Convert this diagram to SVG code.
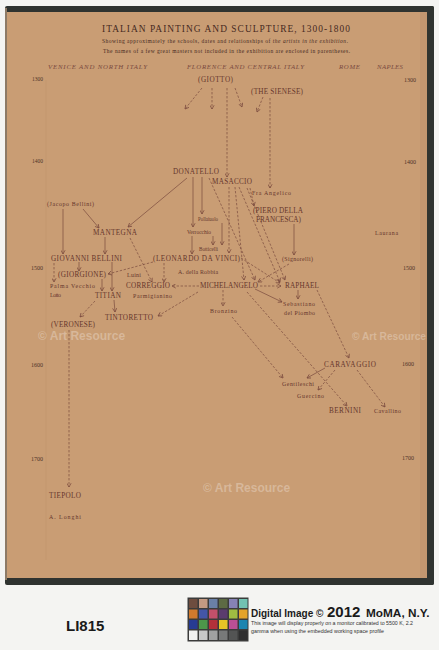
<svg xmlns="http://www.w3.org/2000/svg" width="439" height="650" viewBox="0 0 439 650">
<style>
.n{font-family:"Liberation Serif","DejaVu Serif",serif;fill:#66362c;font-size:7.2px}
.s{font-family:"Liberation Serif","DejaVu Serif",serif;fill:#66362c;font-size:5.9px}
.y{font-family:"Liberation Serif","DejaVu Serif",serif;fill:#4e3328;font-size:5.4px}
.h{font-family:"Liberation Serif","DejaVu Serif",serif;fill:#7a4a40;font-size:6.8px;font-style:italic}
.d{fill:none;stroke:#7a4a3e;stroke-width:0.7;stroke-dasharray:2.4,1.6;marker-end:url(#a)}
.l{fill:none;stroke:#7a4a3e;stroke-width:0.7;marker-end:url(#a)}
.wm{font-family:"Liberation Sans",Arial,sans-serif;font-weight:bold;font-size:12px;fill:#ffffff;fill-opacity:0.28}
.ft{font-family:"Liberation Sans",Arial,sans-serif;font-weight:bold;fill:#1a1a1a}
.fs{font-family:"Liberation Sans",Arial,sans-serif;font-size:4.6px;fill:#333}
</style>
<defs>
<marker id="a" viewBox="0 0 6 6" refX="5" refY="3" markerWidth="5" markerHeight="5" markerUnits="userSpaceOnUse" orient="auto">
<path d="M0.5,0.5 L5,3 L0.5,5.5" fill="none" stroke="#7a4a3e" stroke-width="0.9"/>
</marker>
</defs>
<rect x="0" y="0" width="439" height="650" fill="#f4f4f2"/>
<rect x="5" y="8" width="424" height="572" fill="#c99d74"/>
<rect x="5" y="6" width="429" height="6" rx="2" fill="#2f3330"/>
<rect x="427" y="6" width="7" height="579" rx="2" fill="#2f3330"/>
<rect x="5" y="578" width="429" height="7" rx="2" fill="#2f3330"/>
<rect x="5" y="8" width="2" height="572" fill="#8d7a66"/>
<rect x="420" y="12" width="7" height="566" fill="#c29670"/>
<line x1="46" y1="80" x2="46" y2="560" stroke="#bb8f68" stroke-width="0.6" opacity="0.5"/>

<g id="header">
<text x="102" y="31.5" textLength="248" lengthAdjust="spacing" style="font-family:'Liberation Serif',serif;font-size:9.4px;fill:#46291f">ITALIAN PAINTING AND SCULPTURE, 1300-1800</text>
<text x="102" y="43" textLength="246" lengthAdjust="spacing" style="font-family:'Liberation Serif',serif;font-size:5.5px;fill:#46291f">Showing approximately the schools, dates and relationships of <tspan font-style="italic">the artists in the exhibition.</tspan></text>
<text x="103" y="53" textLength="247" lengthAdjust="spacing" style="font-family:'Liberation Serif',serif;font-size:5.5px;fill:#46291f">The names of a few great masters not included in the exhibition are enclosed in parentheses.</text>
<text class="h" x="48" y="68.5" textLength="99" lengthAdjust="spacing">VENICE AND NORTH ITALY</text>
<text class="h" x="187" y="68.5" textLength="117" lengthAdjust="spacing">FLORENCE AND CENTRAL ITALY</text>
<text class="h" x="339" y="68.5" textLength="21" lengthAdjust="spacing">ROME</text>
<text class="h" x="377" y="68.5" textLength="26" lengthAdjust="spacing">NAPLES</text>
</g>

<g id="years">
<text class="y" x="32" y="81" textLength="11" lengthAdjust="spacingAndGlyphs">1300</text>
<text class="y" x="404" y="82" textLength="12" lengthAdjust="spacingAndGlyphs">1300</text>
<text class="y" x="32" y="163" textLength="11" lengthAdjust="spacingAndGlyphs">1400</text>
<text class="y" x="404" y="164" textLength="12" lengthAdjust="spacingAndGlyphs">1400</text>
<text class="y" x="31" y="270" textLength="12" lengthAdjust="spacingAndGlyphs">1500</text>
<text class="y" x="403" y="270" textLength="12" lengthAdjust="spacingAndGlyphs">1500</text>
<text class="y" x="31" y="366.5" textLength="12" lengthAdjust="spacingAndGlyphs">1600</text>
<text class="y" x="402" y="366" textLength="12" lengthAdjust="spacingAndGlyphs">1600</text>
<text class="y" x="31" y="460.5" textLength="12" lengthAdjust="spacingAndGlyphs">1700</text>
<text class="y" x="402" y="460" textLength="12" lengthAdjust="spacingAndGlyphs">1700</text>
</g>

<g id="connectors">
<path class="d" d="M202,88 L185,109"/>
<path class="d" d="M212,88 L212,109"/>
<path class="d" d="M227,88 L227,177"/>
<path class="d" d="M235,88 L242,107"/>
<path class="d" d="M263,97 L257,112"/>
<path class="d" d="M270,98 L270,188"/>
<path class="l" d="M187,178 L128,227"/>
<path class="l" d="M193,177 L193,227"/>
<path class="l" d="M202,177 L202,214"/>
<path class="l" d="M192,236 L192,254"/>
<path class="l" d="M213,236 L213,245"/>
<path class="l" d="M222,223 L222,245"/>
<path class="d" d="M229,187 L229,253"/>
<path class="d" d="M209,178 L255,280"/>
<path class="d" d="M235,187 L244,280"/>
<path class="d" d="M239,187 L280,282"/>
<path class="d" d="M247,188 L285,280"/>
<path class="d" d="M250,188 L254,206"/>
<path class="l" d="M294,224 L294,255"/>
<path class="d" d="M289,264 L258,282"/>
<path class="d" d="M241,258 L280,283"/>
<path class="d" d="M153,262 L108,274"/>
<path class="d" d="M164,263 L164,282"/>
<path class="d" d="M130,238 L152,282"/>
<path class="l" d="M105,237 L105,254"/>
<path class="l" d="M63,209 L63,254"/>
<path class="l" d="M83,209 L99,228"/>
<path class="l" d="M79,262 L79,271"/>
<path class="d" d="M54,263 L54,282"/>
<path class="l" d="M112,262 L112,291"/>
<path class="l" d="M102,279 L102,291"/>
<path class="l" d="M114,300 L115,312"/>
<path class="d" d="M95,301 L80,317"/>
<path class="d" d="M69,330 L69,487"/>
<path class="d" d="M199,286 L172,286"/>
<path class="d" d="M198,292 L158,316"/>
<path class="d" d="M223,290 L223,306"/>
<path class="d" d="M260,286 L281,286"/>
<path class="l" d="M255,289 L282,302"/>
<path class="l" d="M298,290 L298,299"/>
<path class="d" d="M247,292 L347,406"/>
<path class="d" d="M232,317 L283,378"/>
<path class="d" d="M317,290 L349,358"/>
<path class="l" d="M325,368 L307,378"/>
<path class="d" d="M335,370 L318,390"/>
<path class="d" d="M357,370 L385,407"/>
</g>

<g id="giotto"><text class="n" x="198" y="82" textLength="35" lengthAdjust="spacing">(GIOTTO)</text></g>
<g id="sienese"><text class="n" x="251" y="94" textLength="52" lengthAdjust="spacing">(THE SIENESE)</text></g>
<g id="donatello"><text class="n" x="173" y="174" textLength="46" lengthAdjust="spacing">DONATELLO</text></g>
<g id="masaccio"><text class="n" x="212" y="183.5" textLength="40" lengthAdjust="spacing">MASACCIO</text></g>
<g id="fra-angelico"><text class="s" x="252" y="195" textLength="39" lengthAdjust="spacing">Fra Angelico</text></g>
<g id="piero"><text class="n" x="253" y="213" textLength="50" lengthAdjust="spacing">(PIERO DELLA</text><text class="n" x="256" y="221.5" textLength="45" lengthAdjust="spacing">FRANCESCA)</text></g>
<g id="laurana"><text class="s" x="375" y="235" textLength="23" lengthAdjust="spacing">Laurana</text></g>
<g id="signorelli"><text class="s" x="282" y="261" textLength="31" lengthAdjust="spacing">(Signorelli)</text></g>
<g id="jacopo-bellini"><text class="s" x="47" y="206" textLength="47" lengthAdjust="spacing">(Jacopo Bellini)</text></g>
<g id="mantegna"><text class="n" x="93" y="235" textLength="44" lengthAdjust="spacing">MANTEGNA</text></g>
<g id="pollaiuolo"><text class="s" x="198" y="221" textLength="20" lengthAdjust="spacingAndGlyphs">Pollaiuolo</text></g>
<g id="verrocchio"><text class="s" x="187" y="234" textLength="24" lengthAdjust="spacingAndGlyphs">Verrocchio</text></g>
<g id="botticelli"><text class="s" x="199" y="251" textLength="19" lengthAdjust="spacingAndGlyphs">Botticelli</text></g>
<g id="giovanni-bellini"><text class="n" x="51" y="260.5" textLength="71" lengthAdjust="spacing">GIOVANNI BELLINI</text></g>
<g id="leonardo"><text class="n" x="153" y="260.5" textLength="87" lengthAdjust="spacing">(LEONARDO DA VINCI)</text></g>
<g id="della-robbia"><text class="s" x="178" y="274" textLength="40" lengthAdjust="spacing">A. della Robbia</text></g>
<g id="giorgione"><text class="n" x="58" y="277" textLength="48" lengthAdjust="spacing">(GIORGIONE)</text></g>
<g id="luini"><text class="s" x="127" y="277" textLength="14" lengthAdjust="spacing">Luini</text></g>
<g id="palma-vecchio"><text class="s" x="50" y="288" textLength="45" lengthAdjust="spacing">Palma Vecchio</text></g>
<g id="lotto"><text class="s" x="50" y="297" textLength="11" lengthAdjust="spacing">Lotto</text></g>
<g id="correggio"><text class="n" x="126" y="287.5" textLength="44" lengthAdjust="spacing">CORREGGIO</text></g>
<g id="michelangelo"><text class="n" x="200" y="287.5" textLength="58" lengthAdjust="spacing">MICHELANGELO</text></g>
<g id="raphael"><text class="n" x="285" y="287.5" textLength="34" lengthAdjust="spacing">RAPHAEL</text></g>
<g id="titian"><text class="n" x="95" y="297.5" textLength="26" lengthAdjust="spacing">TITIAN</text></g>
<g id="parmigianino"><text class="s" x="133" y="298" textLength="39" lengthAdjust="spacing">Parmigianino</text></g>
<g id="sebastiano"><text class="s" x="283" y="306" textLength="32" lengthAdjust="spacing">Sebastiano</text><text class="s" x="284" y="314.5" textLength="31" lengthAdjust="spacing">del Piombo</text></g>
<g id="bronzino"><text class="s" x="210" y="313" textLength="27" lengthAdjust="spacing">Bronzino</text></g>
<g id="tintoretto"><text class="n" x="105" y="320" textLength="48" lengthAdjust="spacing">TINTORETTO</text></g>
<g id="veronese"><text class="n" x="51" y="327" textLength="44" lengthAdjust="spacing">(VERONESE)</text></g>
<g id="caravaggio"><text class="n" x="324" y="366.5" textLength="52" lengthAdjust="spacing">CARAVAGGIO</text></g>
<g id="gentileschi"><text class="s" x="282" y="385.5" textLength="32" lengthAdjust="spacing">Gentileschi</text></g>
<g id="guercino"><text class="s" x="297" y="398" textLength="27" lengthAdjust="spacing">Guercino</text></g>
<g id="bernini"><text class="n" x="329" y="413" textLength="32" lengthAdjust="spacing">BERNINI</text></g>
<g id="cavallino"><text class="s" x="374" y="413" textLength="27" lengthAdjust="spacing">Cavallino</text></g>
<g id="tiepolo"><text class="n" x="49" y="498" textLength="32" lengthAdjust="spacing">TIEPOLO</text></g>
<g id="longhi"><text class="s" x="49" y="519" textLength="32" lengthAdjust="spacing">A. Longhi</text></g>

<g id="watermarks">
<text class="wm" x="38" y="340">© Art Resource</text>
<text class="wm" x="352" y="340" style="font-size:11px" textLength="74" lengthAdjust="spacingAndGlyphs">© Art Resource</text>
<text class="wm" x="203" y="492">© Art Resource</text>
</g>

<g id="footer">
<text class="ft" x="66" y="631" style="font-size:15px">LI815</text>
<rect x="187.5" y="597.5" width="61" height="44" fill="#3b3b3b"/>
<g>
<rect x="189" y="599" width="8.5" height="9" fill="#6e4d3f"/><rect x="199" y="599" width="8.5" height="9" fill="#c49a82"/><rect x="209" y="599" width="8.5" height="9" fill="#6a7fa6"/><rect x="219" y="599" width="8.5" height="9" fill="#5d6a43"/><rect x="229" y="599" width="8.5" height="9" fill="#8682b5"/><rect x="239" y="599" width="8.5" height="9" fill="#72c2b2"/>
<rect x="189" y="609.5" width="8.5" height="9" fill="#d17a2d"/><rect x="199" y="609.5" width="8.5" height="9" fill="#4456a8"/><rect x="209" y="609.5" width="8.5" height="9" fill="#c3506a"/><rect x="219" y="609.5" width="8.5" height="9" fill="#5b3c6e"/><rect x="229" y="609.5" width="8.5" height="9" fill="#9fbd42"/><rect x="239" y="609.5" width="8.5" height="9" fill="#e4a32a"/>
<rect x="189" y="620" width="8.5" height="9" fill="#273b93"/><rect x="199" y="620" width="8.5" height="9" fill="#4d964a"/><rect x="209" y="620" width="8.5" height="9" fill="#b3313a"/><rect x="219" y="620" width="8.5" height="9" fill="#e7c526"/><rect x="229" y="620" width="8.5" height="9" fill="#bb4f95"/><rect x="239" y="620" width="8.5" height="9" fill="#1d85b0"/>
<rect x="189" y="630.5" width="8.5" height="9.5" fill="#f1f1f0"/><rect x="199" y="630.5" width="8.5" height="9.5" fill="#c7c8c8"/><rect x="209" y="630.5" width="8.5" height="9.5" fill="#a0a1a1"/><rect x="219" y="630.5" width="8.5" height="9.5" fill="#787979"/><rect x="229" y="630.5" width="8.5" height="9.5" fill="#535454"/><rect x="239" y="630.5" width="8.5" height="9.5" fill="#2e2e2f"/>
</g>
<text class="ft" x="251" y="617" style="font-size:10px">Digital Image ©</text>
<text class="ft" x="327" y="617" style="font-size:15px">2012</text>
<text class="ft" x="366" y="617" style="font-size:11.8px">MoMA, N.Y.</text>
<text class="fs" x="251" y="625" textLength="162" lengthAdjust="spacingAndGlyphs">This image will display properly on a monitor calibrated to 5500 K, 2.2</text>
<text class="fs" x="251" y="633" textLength="133" lengthAdjust="spacingAndGlyphs">gamma when using the embedded working space profile</text>
</g>
</svg>
